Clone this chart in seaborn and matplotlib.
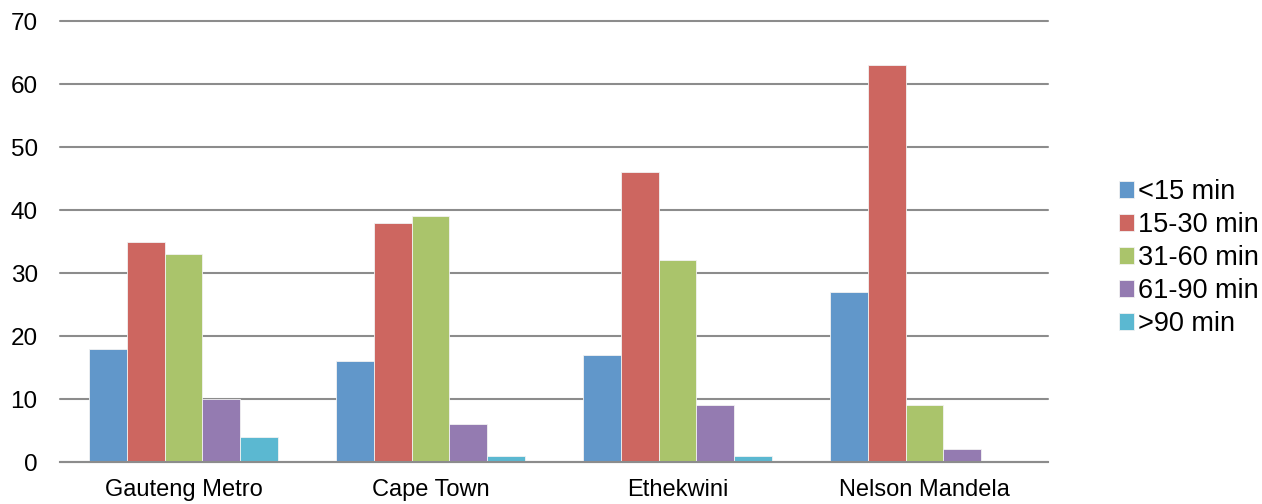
import matplotlib
matplotlib.use("Agg")
import matplotlib.pyplot as plt
import seaborn as sns
import pandas as pd
import numpy as np

cities = ["Gauteng Metro", "Cape Town", "Ethekwini", "Nelson Mandela"]
durations = ["<15 min", "15-30 min", "31-60 min", "61-90 min", ">90 min"]
under_15 = [18, 16, 17, 27]
min_15_30 = [35, 38, 46, 63]
min_31_60 = [33, 39, 32, 9]
min_61_90 = [10, 6, 9, 2]
over_90 = [4, 1, 1, 0]
colors = ["#6197CA", "#CD6660", "#AAC46B", "#947BB1", "#5BB8D1"]

series = [under_15, min_15_30, min_31_60, min_61_90, over_90]
rows = []
for dur, vals in zip(durations, series):
    for city, v in zip(cities, vals):
        rows.append({"city": city, "duration": dur, "value": v})
df = pd.DataFrame(rows)

sns.set_style("white")
plt.rcParams["font.family"] = ["Liberation Sans", "DejaVu Sans"]
plt.rcParams["text.color"] = "#000000"

fig = plt.figure(figsize=(12.62, 5.04), dpi=100)
ax = fig.add_axes([0.0475, 0.0833, 0.783, 0.875])

sns.barplot(data=df, x="city", y="value", hue="duration", order=cities,
            hue_order=durations, palette=colors, width=0.765, saturation=1,
            edgecolor="#F2F2F2", linewidth=0.6, ax=ax, legend=True, zorder=3)

ax.set_ylim(0, 70)
ax.set_xlim(-0.5, len(cities) - 0.5)
ax.set_yticks(np.arange(0, 71, 10))
ax.yaxis.grid(True, color="#8C8C8C", linewidth=1.5, zorder=0)
for gl in ax.get_ygridlines():
    gl.set_clip_on(False)
ax.set_axisbelow(True)
ax.set_xlabel("")
ax.set_ylabel("")

for s in ["top", "right", "left"]:
    ax.spines[s].set_visible(False)
ax.spines["bottom"].set_color("#8C8C8C")
ax.spines["bottom"].set_linewidth(1.5)
ax.spines["bottom"].set_zorder(4)

ax.set_xticks(np.arange(-0.5, len(cities), 1.0), minor=True)
ax.tick_params(axis="x", which="minor", length=6, width=1.5, color="#8C8C8C",
               direction="out")
ax.tick_params(axis="x", which="major", length=0, labelsize=17, pad=12,
               labelcolor="#000000")
ax.tick_params(axis="y", length=0, labelsize=17.5, pad=16, labelcolor="#000000")

handles, labels = ax.get_legend_handles_labels()
leg = ax.legend(handles, labels, loc="center left", bbox_to_anchor=(0.878, 0.488),
                bbox_transform=fig.transFigure, frameon=False, fontsize=19.5,
                handlelength=0.55, handleheight=0.55, handletextpad=0.15,
                labelspacing=0.26, borderaxespad=0)
for t in leg.get_texts():
    t.set_color("#000000")

fig.savefig("out.png", dpi=100)
